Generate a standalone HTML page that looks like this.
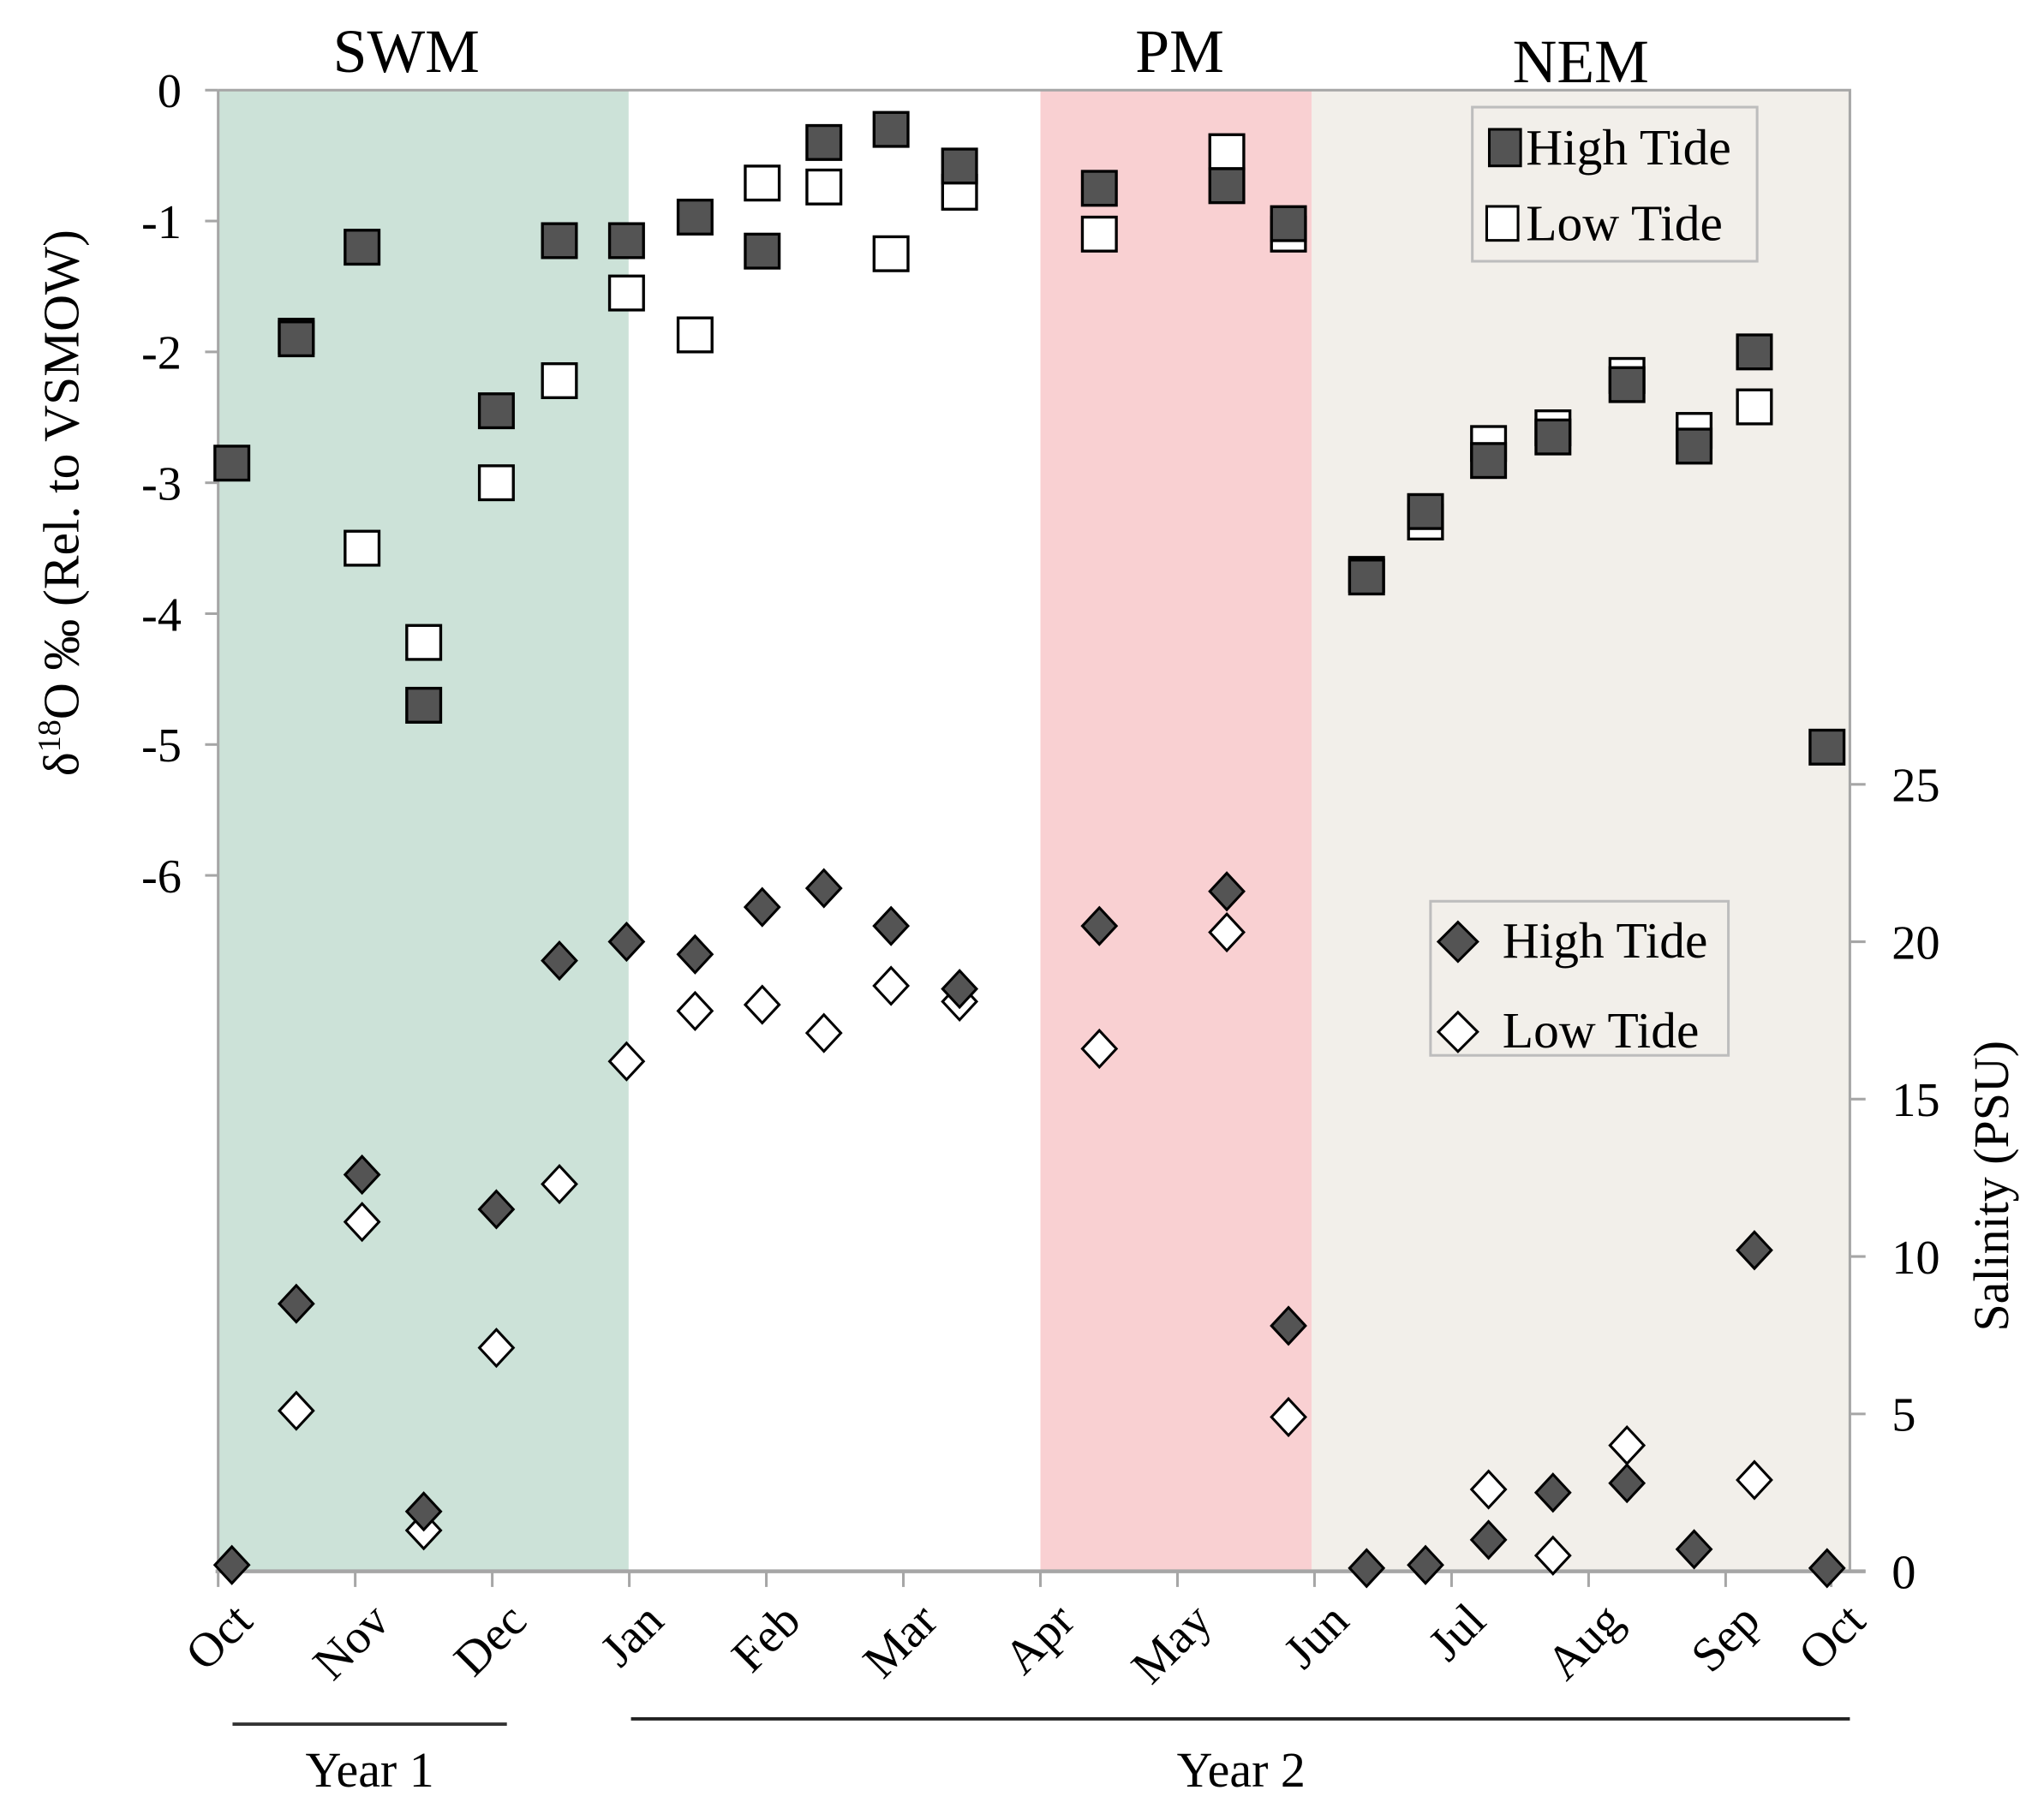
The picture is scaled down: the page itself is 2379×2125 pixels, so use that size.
<!DOCTYPE html>
<html><head><meta charset="utf-8"><style>
html,body{margin:0;padding:0;background:#fff;}
svg{display:block;}
text{font-family:"Liberation Serif",serif;fill:#000;}
</style></head><body>
<svg id="chart" width="2379" height="2125" viewBox="0 0 1560 1393.4" xmlns="http://www.w3.org/2000/svg">
<g id="bg"></g>
<g id="axes"></g>
<g id="marks"></g>
<g id="legends"></g>
</svg>
<script>
// ---- data ----
const monthLabels = ["Oct","Nov","Dec","Jan","Feb","Mar","Apr","May","Jun","Jul","Aug","Sep","Oct"];
const monthTicks = [0,1,2,3,4,5,6,7,8,9,10,11,11.77];
const d18Ticks = [0,-1,-2,-3,-4,-5,-6];
const salTicks = [0,5,10,15,20,25];
const sqHighX = [0.1,0.57,1.05,1.5,2.03,2.49,2.98,3.48,3.97,4.42,4.91,5.41,6.43,7.36,7.81,8.38,8.81,9.27,9.74,10.28,10.77,11.21,11.74];
const sqHighY = [-2.85,-1.9,-1.2,-4.7,-2.45,-1.15,-1.15,-0.97,-1.23,-0.4,-0.3,-0.58,-0.75,-0.73,-1.02,-3.72,-3.22,-2.83,-2.65,-2.25,-2.72,-2.0,-5.02];
const sqLowX = [0.57,1.05,1.5,2.03,2.49,2.98,3.48,3.97,4.42,4.91,5.41,6.43,7.36,7.81,8.38,8.81,9.27,9.74,10.28,10.77,11.21];
const sqLowY = [-1.88,-3.5,-4.22,-3.0,-2.22,-1.55,-1.87,-0.71,-0.74,-1.25,-0.78,-1.1,-0.47,-1.1,-3.7,-3.3,-2.7,-2.58,-2.18,-2.6,-2.42];
const dmHighX = [0.1,0.57,1.05,1.5,2.03,2.49,2.98,3.48,3.97,4.42,4.91,5.41,6.43,7.36,7.81,8.38,8.81,9.27,9.74,10.28,10.77,11.21,11.74];
const dmHighY = [0.2,8.5,12.6,1.9,11.5,19.4,20.0,19.6,21.1,21.7,20.5,18.5,20.5,21.6,7.8,0.1,0.2,1.0,2.5,2.8,0.7,10.2,0.1];
const dmLowX = [0.57,1.05,1.5,2.03,2.49,2.98,3.48,3.97,4.42,4.91,5.41,6.43,7.36,7.81,9.27,9.74,10.28,11.21];
const dmLowY = [5.1,11.1,1.3,7.1,12.3,16.2,17.8,18.0,17.1,18.6,18.1,16.6,20.3,4.9,2.6,0.5,4.0,2.9];

// ---- scales ----
const X0=167, MW=104.9, PR=1416, PT=69, PB=1203;
const xs = m => X0 + m*MW;
const yd = v => PT - v*100.2;
const ys = v => PB - v*24.1;
const NS="http://www.w3.org/2000/svg";
function mk(parent,tag,attrs){const e=document.createElementNS(NS,tag);for(const k in attrs)e.setAttribute(k,attrs[k]);document.getElementById(parent).appendChild(e);return e;}

let r;
r=mk('bg','rect',{x:xs(0),y:PT,width:xs(2.995)-xs(0),height:PB-PT,fill:'#cce2d8'});


r=mk('bg','rect',{x:xs(6),y:PT,width:xs(7.98)-xs(6),height:PB-PT,fill:'#f9d0d2'});


r=mk('bg','rect',{x:xs(7.98),y:PT,width:PR-xs(7.98),height:PB-PT,fill:'#f2efea'});



r=mk('axes','path',{d:`M${X0},${PT}H${PR}V${PB}`,fill:'none',stroke:'#a6a6a6','stroke-width':2});


r=mk('axes','line',{x1:X0,y1:PT,x2:X0,y2:PB,stroke:'#a6a6a6','stroke-width':2});


r=mk('axes','line',{x1:X0-2,y1:PB,x2:PR+12,y2:PB,stroke:'#a6a6a6','stroke-width':3});



d18Ticks.forEach(v=>{
  const t=mk('axes','line',{x1:X0-10,y1:yd(v),x2:X0,y2:yd(v),stroke:'#a6a6a6','stroke-width':2});
  
  
  const l=mk('axes','text',{x:X0-28,y:yd(v)+13,'font-size':37,'text-anchor':'end'});
  l.textContent = v===0?'0':String(v);
  
  
});
salTicks.forEach(v=>{
  const t=mk('axes','line',{x1:PR,y1:ys(v),x2:PR+12,y2:ys(v),stroke:'#a6a6a6','stroke-width':2});
  
  
  const l=mk('axes','text',{x:PR+32,y:ys(v)+13,'font-size':37,'text-anchor':'start'});
  l.textContent = String(v);
  
  
});
monthTicks.forEach((m,i)=>{
  const t=mk('axes','line',{x1:xs(m),y1:PB,x2:xs(m),y2:PB+12,stroke:'#a6a6a6','stroke-width':2});
  
  
  const x=xs(m)+28, y=PB+40;
  const l=mk('axes','text',{x:x,y:y,'font-size':37,'text-anchor':'end',transform:`rotate(-45 ${x} ${y})`});
  l.textContent = monthLabels[i];
  
  
});

function square(x,y,fill,name){
  const e=mk('marks','rect',{x:x-13,y:y-13,width:26,height:26,fill:fill,stroke:'#000','stroke-width':2.2});
  
  
}
function diamond(x,y,fill,name){
  const e=mk('marks','path',{d:`M${x},${y-14}L${x+13},${y}L${x},${y+14}L${x-13},${y}Z`,fill:fill,stroke:'#000','stroke-width':2});
  
  
}
sqLowX.forEach((m,i)=>square(xs(m),yd(sqLowY[i]),'#fff','d18o-low-tide-point'));
sqHighX.forEach((m,i)=>square(xs(m),yd(sqHighY[i]),'#545454','d18o-high-tide-point'));
dmLowX.forEach((m,i)=>diamond(xs(m),ys(dmLowY[i]),'#fff','salinity-low-tide-point'));
dmHighX.forEach((m,i)=>diamond(xs(m),ys(dmHighY[i]),'#545454','salinity-high-tide-point'));
</script>
<svg style="position:absolute;left:0;top:0" width="2379" height="2125" viewBox="0 0 1560 1393.4" xmlns="http://www.w3.org/2000/svg">
  <text x="311" y="55" font-size="47" text-anchor="middle">SWM</text>
  <text x="903" y="55" font-size="47" text-anchor="middle">PM</text>
  <text x="1210" y="63" font-size="47" text-anchor="middle">NEM</text>
  <text transform="translate(60 385) rotate(-90)" font-size="39" text-anchor="middle">δ<tspan font-size="25" dy="-14">18</tspan><tspan dy="14">O ‰ (Rel. to VSMOW)</tspan></text>
  <text transform="translate(1537 908) rotate(-90)" font-size="38" text-anchor="middle">Salinity (PSU)</text>
  <g>
    <rect x="1127" y="82" width="218" height="118" fill="#f2efea" stroke="#bdbdbd" stroke-width="2"/>
    <rect x="1140" y="99" width="24" height="28" fill="#545454" stroke="#000" stroke-width="2"/>
    <text x="1168" y="126" font-size="39">High Tide</text>
    <rect x="1138" y="158" width="24" height="26" fill="#fff" stroke="#000" stroke-width="2"/>
    <text x="1168" y="184" font-size="39">Low Tide</text>
  </g>
  <g>
    <rect x="1095" y="690" width="228" height="118" fill="#f2efea" stroke="#bdbdbd" stroke-width="2"/>
    <path d="M1116,706L1131,721L1116,736L1101,721Z" fill="#545454" stroke="#000" stroke-width="2"/>
    <text x="1150" y="733" font-size="39">High Tide</text>
    <path d="M1116,775L1131,790L1116,805L1101,790Z" fill="#fff" stroke="#000" stroke-width="2"/>
    <text x="1150" y="802" font-size="39">Low Tide</text>
  </g>
  <line x1="178" y1="1320" x2="388" y2="1320" stroke="#333" stroke-width="2.5"/>
  <line x1="483" y1="1316" x2="1416" y2="1316" stroke="#222" stroke-width="2.5"/>
  <text x="283" y="1368" font-size="38" text-anchor="middle">Year 1</text>
  <text x="950" y="1368" font-size="38" text-anchor="middle">Year 2</text>
</svg>
</body></html>
